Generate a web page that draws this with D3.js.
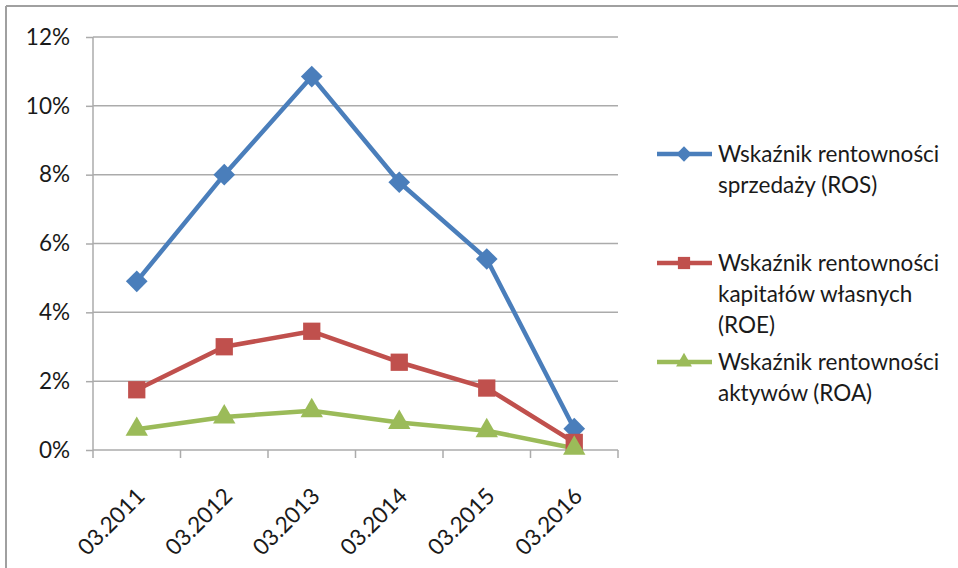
<!DOCTYPE html>
<html><head><meta charset="utf-8">
<script src="https://cdn.jsdelivr.net/npm/d3@7"></script>
<style>
html,body{margin:0;padding:0;background:#fff;}
svg{display:block;font-family:"Lato","Open Sans",sans-serif;}
</style></head>
<body>
<svg id="c" width="958" height="568"></svg>
<script>
const categories = ["03.2011","03.2012","03.2013","03.2014","03.2015","03.2016"];
const ros = [4.9, 8.0, 10.85, 7.78, 5.55, 0.62];
const roe = [1.75, 3.0, 3.45, 2.55, 1.8, 0.22];
const roa = [0.6, 0.96, 1.14, 0.8, 0.56, 0.05];
const yTicks = [0, 2, 4, 6, 8, 10, 12];
const seriesNames = [
  ["Wskaźnik rentowności", "sprzedaży (ROS)"],
  ["Wskaźnik rentowności", "kapitałów własnych", "(ROE)"],
  ["Wskaźnik rentowności", "aktywów (ROA)"]
];
const colors = ["#4a7ebb", "#c0504d", "#9bbb59"];
const symbols = [d3.symbolDiamond2, d3.symbolSquare2, d3.symbolTriangle2];
const series = [ros, roe, roa];

(function(){
const svg = d3.select("#c");
const pL = 93, pR = 618, pT = 37, pB = 450;
const fs = 22.5;
const x = d3.scaleBand().domain(categories).range([pL, pR]);
const y = d3.scaleLinear().domain([0, 12]).range([pB, pT]);
const grid = "#ababab";

// frame
svg.append("line").attr("x1",6).attr("x2",958).attr("y1",6).attr("y2",6).attr("stroke","#a0a0a0").attr("stroke-width",2);
svg.append("line").attr("x1",6).attr("x2",6).attr("y1",6).attr("y2",568).attr("stroke","#a0a0a0").attr("stroke-width",2);

// gridlines
svg.append("g").selectAll("line").data(yTicks.filter(d=>d>0)).join("line")
  .attr("x1", pL).attr("x2", pR).attr("y1", d=>y(d)).attr("y2", d=>y(d))
  .attr("stroke", grid).attr("stroke-width", 1.5);

// y axis
const yAxis = svg.append("g").attr("transform", `translate(${pL},0)`)
  .call(d3.axisLeft(y).tickValues(yTicks).tickFormat(d=>d+"%").tickSize(7).tickPadding(16));
yAxis.selectAll("line,path").attr("stroke", grid).attr("stroke-width", 1.5);
yAxis.select(".domain").attr("d", `M0,${pT}V${pB}`);
yAxis.selectAll("text").attr("font-size", fs).attr("fill", "#1a1a1a").attr("font-family","Lato, sans-serif");

// x axis
const xAxis = svg.append("g").attr("transform", `translate(0,${pB})`)
  .call(d3.axisBottom(x).tickSize(0).tickFormat(""));
xAxis.select(".domain").attr("stroke", grid).attr("stroke-width", 1.5).attr("d", `M${pL},0H${pR}`);
const bounds = categories.map(c=>x(c)).concat([pR]);
xAxis.append("g").selectAll("line").data(bounds).join("line")
  .attr("x1", d=>d).attr("x2", d=>d).attr("y1", 0).attr("y2", 8)
  .attr("stroke", grid).attr("stroke-width", 1.5);
svg.append("g").selectAll("text").data(categories).join("text")
  .attr("transform", d=>`translate(${x(d)+x.bandwidth()/2+4},${pB+42}) rotate(-45)`)
  .attr("text-anchor","end").attr("dy","0.35em")
  .attr("font-size", fs).attr("fill","#1a1a1a").text(d=>d);

// series
const line = d3.line().x((d,i)=>x(categories[i])+x.bandwidth()/2).y(d=>y(d));
const sizes = [300, 380, 360];
series.forEach((s, k) => {
  svg.append("path").datum(s).attr("d", line).attr("fill","none")
    .attr("stroke", colors[k]).attr("stroke-width", 4.5).attr("stroke-linejoin","round");
});
series.forEach((s, k) => {
  svg.append("g").selectAll("path").data(s).join("path")
    .attr("transform", (d,i)=>`translate(${x(categories[i])+x.bandwidth()/2},${y(d)})`)
    .attr("d", d3.symbol().type(symbols[k]).size(sizes[k]))
    .attr("fill", colors[k]);
});

// legend
const legY = [154, 263, 362];
const leg = svg.append("g");
seriesNames.forEach((lines, k) => {
  const g = leg.append("g").attr("transform", `translate(0,${legY[k]})`);
  g.append("line").attr("x1",657).attr("x2",712).attr("y1",0).attr("y2",0)
    .attr("stroke", colors[k]).attr("stroke-width", 4.5);
  g.append("path").attr("transform","translate(684,0)")
    .attr("d", d3.symbol().type(symbols[k]).size(sizes[k]*0.5)).attr("fill", colors[k]);
  const t = g.append("text").attr("x", 718).attr("y", 8).attr("font-size", fs).attr("fill","#1a1a1a");
  lines.forEach((l, j) => t.append("tspan").attr("x", 718).attr("dy", j===0?0:31).text(l));
});
})();
</script>
</body></html>
